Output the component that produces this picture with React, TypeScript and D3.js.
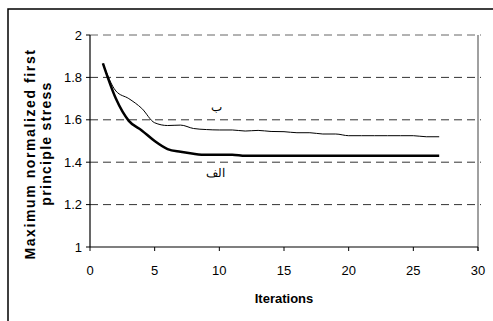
import * as d3 from 'd3';

const iterations = [1, 2, 3, 4, 5, 6, 7, 8, 9, 10, 11, 12, 13, 14, 15, 16, 17, 18, 19, 20, 21, 22, 23, 24, 25, 26, 27];

// الف (thick)
const seriesA = [
  1.866, 1.70, 1.595, 1.55, 1.50, 1.462, 1.449, 1.44, 1.435, 1.435, 1.435, 1.43, 1.43, 1.43,
  1.43, 1.43, 1.43, 1.43, 1.43, 1.43, 1.43, 1.43, 1.43, 1.43, 1.43, 1.43, 1.43,
];

// ب (thin)
const seriesB = [
  1.866, 1.736, 1.70, 1.654, 1.586, 1.573, 1.575, 1.559, 1.554, 1.552, 1.552, 1.547, 1.55, 1.545,
  1.544, 1.539, 1.539, 1.533, 1.533, 1.525, 1.525, 1.525, 1.525, 1.525, 1.525, 1.52, 1.52,
];

const xTicks = [0, 5, 10, 15, 20, 25, 30];
const yTicks = [1, 1.2, 1.4, 1.6, 1.8, 2];
const gridValues = [1.2, 1.4, 1.6, 1.8, 2];

const W = 493;
const H = 321;
const FONT = '"Liberation Sans", Arial, sans-serif';

export default function App() {
  const left = 90;
  const right = 478;
  const top = 35;
  const bottom = 247;

  const x = d3.scaleLinear().domain([0, 30]).range([left, right]);
  const y = d3.scaleLinear().domain([1, 2]).range([bottom, top]);

  const line = d3
    .line<number>()
    .x((_, i) => x(iterations[i]))
    .y((d) => y(d))
    .curve(d3.curveMonotoneX);

  return (
    <svg
      width={W}
      height={H}
      style={{ position: 'absolute', left: 0, top: 0, background: '#fff' }}
      fontFamily={FONT}
    >
      {/* outer frame */}
      <path d={`M8,${H} L8,9 L${W},9`} fill="none" stroke="#000" strokeWidth={1.5} />

      {/* grid */}
      {gridValues.map((v) => (
        <line
          key={v}
          x1={left}
          x2={right + 3}
          y1={y(v)}
          y2={y(v)}
          stroke={v === 2 ? '#666' : '#333'}
          strokeWidth={1}
          strokeDasharray="8,5"
        />
      ))}

      {/* right border */}
      <line x1={right} x2={right} y1={top} y2={bottom + 4} stroke="#808080" strokeWidth={1.5} />

      {/* y axis */}
      <line x1={left} x2={left} y1={top} y2={bottom} stroke="#000" strokeWidth={1.2} />
      {yTicks.map((t) => (
        <g key={t}>
          <line x1={left - 4} x2={left} y1={y(t)} y2={y(t)} stroke="#000" />
          <text x={82} y={y(t)} dy="0.36em" textAnchor="end" fontSize={13} fill="#000">
            {t}
          </text>
        </g>
      ))}

      {/* x axis */}
      <line x1={left} x2={right} y1={bottom} y2={bottom} stroke="#000" strokeWidth={1.2} />
      {xTicks.map((t) => (
        <g key={t}>
          <line x1={x(t)} x2={x(t)} y1={bottom} y2={bottom + 4} stroke="#000" />
          <text x={x(t)} y={275} textAnchor="middle" fontSize={13} fill="#000">
            {t}
          </text>
        </g>
      ))}

      {/* axis titles */}
      <text x={(left + right) / 2} y={302.5} textAnchor="middle" fontSize={13} fontWeight="bold">
        Iterations
      </text>
      <text
        transform="translate(34.5,154) rotate(-90)"
        textAnchor="middle"
        fontSize={14}
        fontWeight="bold"
        letterSpacing={1.6}
      >
        Maximum normalized first
      </text>
      <text
        transform="translate(51,143.5) rotate(-90)"
        textAnchor="middle"
        fontSize={14}
        fontWeight="bold"
        letterSpacing={1.3}
      >
        principle stress
      </text>

      {/* series */}
      <path d={line(seriesB) ?? ''} fill="none" stroke="#000" strokeWidth={1} />
      <path d={line(seriesA) ?? ''} fill="none" stroke="#000" strokeWidth={2.5} />

      {/* series labels */}
      <text x={216} y={111} textAnchor="middle" fontSize={12} fill="#000">
        ب
      </text>
      <text x={215} y={177} textAnchor="middle" fontSize={12} fill="#000">
        الف
      </text>
    </svg>
  );
}
